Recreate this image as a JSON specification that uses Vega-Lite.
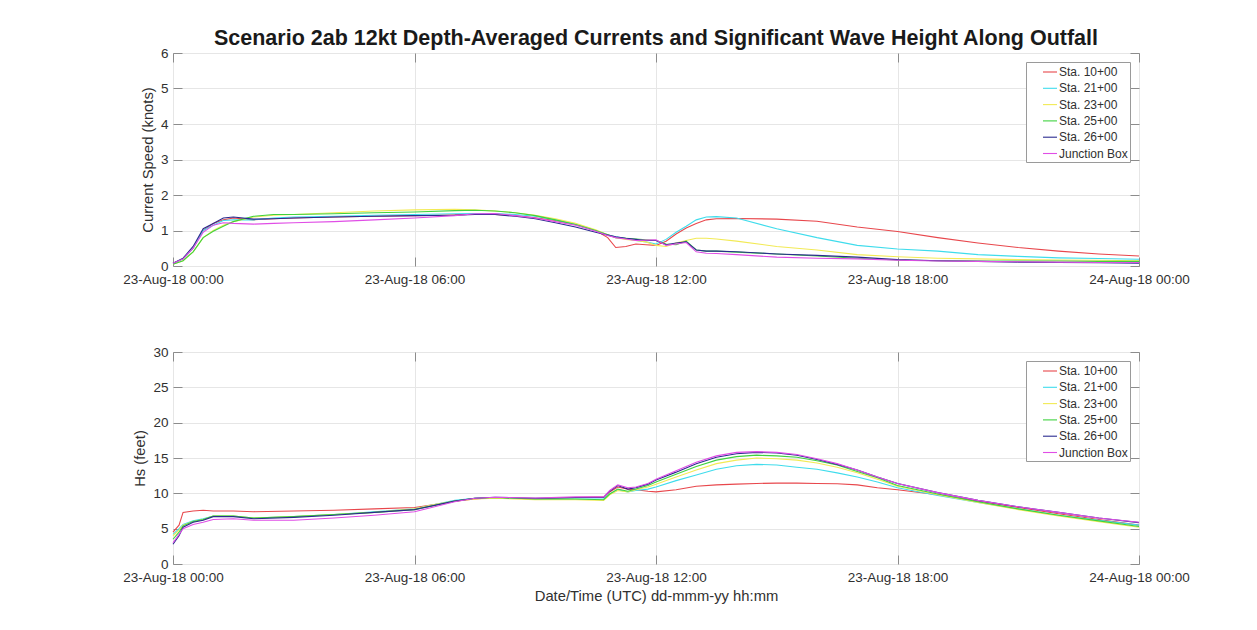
{
  "$schema": "https://vega.github.io/schema/vega-lite/v6.json",
  "background": "white",
  "padding": {"left": 122, "top": 27, "right": 10, "bottom": 5},
  "config": {
    "font": "Liberation Sans",
    "view": {"stroke": "#8c8c8c", "strokeWidth": 1},
    "axis": {
      "labelFont": "Liberation Sans", "labelFontSize": 13.5, "labelColor": "#303030",
      "titleFont": "Liberation Sans", "titleFontSize": 14.8, "titleFontWeight": "normal", "titleColor": "#303030",
      "gridColor": "#e6e6e6", "gridWidth": 1, "domain": false, "labelFlush": false,
      "tickColor": "#8c8c8c", "tickSize": -9
    },
    "legend": {
      "orient": "top-right", "offset": 9, "title": null, "fillColor": "white", "strokeColor": "#9a9a9a",
      "padding": 2, "symbolType": "stroke", "symbolSize": 196, "symbolStrokeWidth": 1.2, "symbolOffset": 14,
      "labelFont": "Liberation Sans", "labelFontSize": 12, "labelColor": "#303030", "labelOffset": 1, "rowPadding": 2.3
    },
    "line": {"strokeWidth": 1.1}
  },
  "datasets": {
    "cur": [
      {"h": 0, "r": 0.08, "c": 0.08, "y": 0.05, "g": 0.05, "b": 0.08, "m": 0.08},
      {"h": 0.25, "r": 0.2, "c": 0.2, "y": 0.15, "g": 0.15, "b": 0.22, "m": 0.2},
      {"h": 0.5, "r": 0.5, "c": 0.5, "y": 0.4, "g": 0.4, "b": 0.55, "m": 0.5},
      {"h": 0.75, "r": 1.0, "c": 1.0, "y": 0.8, "g": 0.8, "b": 1.05, "m": 0.95},
      {"h": 1, "r": 1.2, "c": 1.15, "y": 1.0, "g": 0.98, "b": 1.2, "m": 1.15},
      {"h": 1.25, "r": 1.3, "c": 1.28, "y": 1.15, "g": 1.12, "b": 1.35, "m": 1.22},
      {"h": 1.5, "r": 1.35, "c": 1.3, "y": 1.25, "g": 1.25, "b": 1.38, "m": 1.2},
      {"h": 2, "r": 1.3, "c": 1.3, "y": 1.38, "g": 1.4, "b": 1.32, "m": 1.18},
      {"h": 2.5, "r": 1.33, "c": 1.35, "y": 1.43, "g": 1.45, "b": 1.33, "m": 1.2},
      {"h": 3, "r": 1.35, "c": 1.38, "y": 1.45, "g": 1.45, "b": 1.35, "m": 1.22},
      {"h": 4, "r": 1.38, "c": 1.4, "y": 1.5, "g": 1.47, "b": 1.38, "m": 1.25},
      {"h": 5, "r": 1.4, "c": 1.43, "y": 1.55, "g": 1.5, "b": 1.4, "m": 1.3},
      {"h": 6, "r": 1.42, "c": 1.45, "y": 1.58, "g": 1.52, "b": 1.42, "m": 1.35},
      {"h": 7, "r": 1.44, "c": 1.47, "y": 1.6, "g": 1.56, "b": 1.43, "m": 1.42},
      {"h": 7.5, "r": 1.46, "c": 1.48, "y": 1.58, "g": 1.57, "b": 1.45, "m": 1.47},
      {"h": 8, "r": 1.45, "c": 1.48, "y": 1.55, "g": 1.55, "b": 1.45, "m": 1.48},
      {"h": 8.5, "r": 1.42, "c": 1.45, "y": 1.5, "g": 1.5, "b": 1.4, "m": 1.42},
      {"h": 9, "r": 1.36, "c": 1.4, "y": 1.43, "g": 1.42, "b": 1.33, "m": 1.35},
      {"h": 9.5, "r": 1.28, "c": 1.3, "y": 1.33, "g": 1.3, "b": 1.22, "m": 1.25},
      {"h": 10, "r": 1.17, "c": 1.18, "y": 1.2, "g": 1.17, "b": 1.1, "m": 1.15},
      {"h": 10.5, "r": 1.0, "c": 1.0, "y": 1.02, "g": 1.0, "b": 0.95, "m": 0.98},
      {"h": 10.8, "r": 0.8, "c": 0.88, "y": 0.88, "g": 0.88, "b": 0.87, "m": 0.86},
      {"h": 11, "r": 0.52, "c": 0.82, "y": 0.8, "g": 0.8, "b": 0.82, "m": 0.8},
      {"h": 11.25, "r": 0.55, "c": 0.77, "y": 0.75, "g": 0.78, "b": 0.78, "m": 0.76},
      {"h": 11.5, "r": 0.62, "c": 0.72, "y": 0.72, "g": 0.76, "b": 0.75, "m": 0.72},
      {"h": 11.75, "r": 0.6, "c": 0.68, "y": 0.68, "g": 0.74, "b": 0.72, "m": 0.73},
      {"h": 12, "r": 0.58, "c": 0.62, "y": 0.58, "g": 0.72, "b": 0.72, "m": 0.74},
      {"h": 12.25, "r": 0.7, "c": 0.75, "y": 0.55, "g": 0.62, "b": 0.6, "m": 0.58},
      {"h": 12.5, "r": 0.9, "c": 0.95, "y": 0.65, "g": 0.6, "b": 0.65, "m": 0.62},
      {"h": 12.75, "r": 1.07, "c": 1.12, "y": 0.72, "g": 0.7, "b": 0.68, "m": 0.66},
      {"h": 13, "r": 1.2, "c": 1.3, "y": 0.78, "g": 0.45, "b": 0.45, "m": 0.4},
      {"h": 13.25, "r": 1.3, "c": 1.38, "y": 0.78, "g": 0.42, "b": 0.42, "m": 0.36},
      {"h": 13.5, "r": 1.33, "c": 1.39, "y": 0.76, "g": 0.42, "b": 0.42, "m": 0.35},
      {"h": 14, "r": 1.34, "c": 1.35, "y": 0.7, "g": 0.39, "b": 0.4, "m": 0.32},
      {"h": 15, "r": 1.32, "c": 1.05, "y": 0.55, "g": 0.34, "b": 0.34, "m": 0.25},
      {"h": 16, "r": 1.26, "c": 0.8, "y": 0.45, "g": 0.28, "b": 0.3, "m": 0.22},
      {"h": 17, "r": 1.1, "c": 0.58, "y": 0.32, "g": 0.22, "b": 0.25, "m": 0.2},
      {"h": 18, "r": 0.97, "c": 0.48, "y": 0.26, "g": 0.17, "b": 0.18, "m": 0.16},
      {"h": 19, "r": 0.8, "c": 0.42, "y": 0.22, "g": 0.15, "b": 0.15, "m": 0.14},
      {"h": 20, "r": 0.65, "c": 0.32, "y": 0.2, "g": 0.14, "b": 0.13, "m": 0.13},
      {"h": 21, "r": 0.52, "c": 0.27, "y": 0.18, "g": 0.14, "b": 0.11, "m": 0.12},
      {"h": 22, "r": 0.42, "c": 0.23, "y": 0.17, "g": 0.14, "b": 0.1, "m": 0.11},
      {"h": 23, "r": 0.34, "c": 0.21, "y": 0.16, "g": 0.13, "b": 0.09, "m": 0.1},
      {"h": 24, "r": 0.28, "c": 0.19, "y": 0.15, "g": 0.13, "b": 0.08, "m": 0.1}
    ],
    "hs": [
      {"h": 0, "r": 4.5, "c": 4.2, "y": 4.0, "g": 3.5, "b": 2.8, "m": 3.0},
      {"h": 0.15, "r": 5.5, "c": 5.0, "y": 4.8, "g": 4.5, "b": 4.0, "m": 4.2},
      {"h": 0.25, "r": 7.3, "c": 5.6, "y": 5.5, "g": 5.4, "b": 5.2, "m": 5.0},
      {"h": 0.5, "r": 7.5, "c": 6.1, "y": 6.0, "g": 6.0, "b": 5.9, "m": 5.6},
      {"h": 0.75, "r": 7.6, "c": 6.4, "y": 6.3, "g": 6.3, "b": 6.2, "m": 5.9},
      {"h": 1, "r": 7.5, "c": 6.8, "y": 6.8, "g": 6.8, "b": 6.7, "m": 6.3},
      {"h": 1.5, "r": 7.5, "c": 6.8, "y": 6.8, "g": 6.8, "b": 6.7, "m": 6.4},
      {"h": 2, "r": 7.4, "c": 6.5, "y": 6.5, "g": 6.5, "b": 6.4, "m": 6.2},
      {"h": 3, "r": 7.5, "c": 6.7, "y": 6.7, "g": 6.7, "b": 6.6, "m": 6.2},
      {"h": 4, "r": 7.6, "c": 7.0, "y": 7.0, "g": 7.0, "b": 6.9, "m": 6.5},
      {"h": 5, "r": 7.8, "c": 7.4, "y": 7.3, "g": 7.3, "b": 7.3, "m": 6.9},
      {"h": 6, "r": 8.0, "c": 7.8, "y": 7.8, "g": 7.7, "b": 7.7, "m": 7.4},
      {"h": 6.5, "r": 8.4, "c": 8.4, "y": 8.4, "g": 8.3, "b": 8.3, "m": 8.1},
      {"h": 7, "r": 8.9, "c": 9.0, "y": 8.9, "g": 8.9, "b": 8.9, "m": 8.8},
      {"h": 7.5, "r": 9.2, "c": 9.3, "y": 9.2, "g": 9.3, "b": 9.3, "m": 9.3},
      {"h": 8, "r": 9.4, "c": 9.4, "y": 9.3, "g": 9.4, "b": 9.45, "m": 9.45},
      {"h": 9, "r": 9.2, "c": 9.2, "y": 9.1, "g": 9.2, "b": 9.3, "m": 9.35},
      {"h": 10, "r": 9.4, "c": 9.2, "y": 9.1, "g": 9.2, "b": 9.4, "m": 9.5},
      {"h": 10.7, "r": 9.5, "c": 9.2, "y": 9.0, "g": 9.1, "b": 9.4, "m": 9.5},
      {"h": 10.85, "r": 10.2, "c": 9.9, "y": 9.8, "g": 9.9, "b": 10.3, "m": 10.4},
      {"h": 11.05, "r": 10.9, "c": 10.5, "y": 10.4, "g": 10.6, "b": 11.1, "m": 11.2},
      {"h": 11.3, "r": 10.6, "c": 10.2, "y": 10.2, "g": 10.3, "b": 10.6, "m": 10.8},
      {"h": 11.5, "r": 10.5, "c": 10.4, "y": 10.5, "g": 10.6, "b": 10.8, "m": 10.9},
      {"h": 11.8, "r": 10.3, "c": 10.6, "y": 10.9, "g": 11.1, "b": 11.3, "m": 11.4},
      {"h": 12, "r": 10.2, "c": 10.9, "y": 11.3, "g": 11.6, "b": 11.9, "m": 12.0},
      {"h": 12.5, "r": 10.5, "c": 11.8, "y": 12.3, "g": 12.7, "b": 13.0, "m": 13.2},
      {"h": 13, "r": 11.0, "c": 12.6, "y": 13.3, "g": 13.8, "b": 14.2, "m": 14.4},
      {"h": 13.5, "r": 11.2, "c": 13.4, "y": 14.2, "g": 14.7, "b": 15.1, "m": 15.3},
      {"h": 14, "r": 11.3, "c": 13.9, "y": 14.7, "g": 15.2, "b": 15.6, "m": 15.8},
      {"h": 14.5, "r": 11.4, "c": 14.1, "y": 15.0, "g": 15.4, "b": 15.8, "m": 15.9},
      {"h": 15, "r": 11.45, "c": 14.0, "y": 14.9, "g": 15.3, "b": 15.7, "m": 15.8},
      {"h": 15.5, "r": 11.45, "c": 13.7, "y": 14.7, "g": 15.1, "b": 15.4, "m": 15.5},
      {"h": 16, "r": 11.4, "c": 13.4, "y": 14.3, "g": 14.6, "b": 14.8, "m": 14.9},
      {"h": 16.5, "r": 11.35, "c": 12.9, "y": 13.7, "g": 14.0, "b": 14.1, "m": 14.2},
      {"h": 17, "r": 11.2, "c": 12.3, "y": 12.9, "g": 13.1, "b": 13.3, "m": 13.3},
      {"h": 17.5, "r": 10.8, "c": 11.6, "y": 12.0, "g": 12.2, "b": 12.3, "m": 12.3},
      {"h": 18, "r": 10.5, "c": 10.8, "y": 11.0, "g": 11.1, "b": 11.4, "m": 11.4},
      {"h": 19, "r": 9.8, "c": 9.7, "y": 9.8, "g": 9.9, "b": 10.1, "m": 10.1},
      {"h": 20, "r": 8.9, "c": 8.7, "y": 8.7, "g": 8.8, "b": 9.0, "m": 9.0},
      {"h": 21, "r": 8.0, "c": 7.8, "y": 7.7, "g": 7.8, "b": 8.1, "m": 8.1},
      {"h": 22, "r": 7.1, "c": 6.9, "y": 6.8, "g": 6.9, "b": 7.3, "m": 7.3},
      {"h": 23, "r": 6.3, "c": 6.2, "y": 6.0, "g": 6.1, "b": 6.5, "m": 6.5},
      {"h": 24, "r": 5.5, "c": 5.5, "y": 5.2, "g": 5.3, "b": 5.85, "m": 5.9}
    ]
  },
  "spacing": 58,
  "resolve": {"scale": {"color": "independent"}, "legend": {"color": "independent"}},
  "vconcat": [
    {
      "width": 966, "height": 213,
      "title": {"text": "Scenario 2ab 12kt Depth-Averaged Currents and Significant Wave Height Along Outfall", "font": "Liberation Sans", "fontSize": 21.5, "fontWeight": "bold", "color": "#1a1a1a", "anchor": "middle", "frame": "group", "offset": -3},
      "data": {"name": "cur"},
      "transform": [{"fold": ["r", "c", "y", "g", "b", "m"], "as": ["s", "v"]}],
      "layer": [
        {
          "mark": {"type": "line"},
          "encoding": {
            "x": {"field": "h", "type": "quantitative", "scale": {"domain": [0, 24], "nice": false},
                  "axis": {"values": [0, 6, 12, 18, 24], "grid": true, "title": null, "labelPadding": 15,
                           "labelExpr": "['23-Aug-18 00:00','23-Aug-18 06:00','23-Aug-18 12:00','23-Aug-18 18:00','24-Aug-18 00:00'][round(datum.value/6)]"}},
            "y": {"field": "v", "type": "quantitative", "scale": {"domain": [0, 6], "nice": false},
                  "axis": {"values": [0, 1, 2, 3, 4, 5, 6], "grid": true, "title": "Current Speed (knots)", "labelPadding": 14, "titlePadding": 5}},
            "color": {"field": "s", "type": "nominal",
                      "scale": {"domain": ["r", "c", "y", "g", "b", "m"], "range": ["#e8474c", "#3fdcec", "#f2ea55", "#3fd23f", "#2b2b8f", "#e04ee6"]},
                      "legend": {"labelExpr": "{'r':'Sta. 10+00','c':'Sta. 21+00','y':'Sta. 23+00','g':'Sta. 25+00','b':'Sta. 26+00','m':'Junction Box'}[datum.label]"}}
          }
        },
        {
          "mark": {"type": "line", "opacity": 0},
          "encoding": {
            "x": {"field": "h", "type": "quantitative", "axis": {"orient": "top", "values": [0, 6, 12, 18, 24], "labels": false, "grid": false, "title": null}},
            "y": {"field": "v", "type": "quantitative", "axis": {"orient": "right", "values": [0, 1, 2, 3, 4, 5, 6], "labels": false, "grid": false, "title": null}},
            "detail": {"field": "s"}
          }
        }
      ],
      "resolve": {"axis": {"x": "independent", "y": "independent"}}
    },
    {
      "width": 966, "height": 212,
      "data": {"name": "hs"},
      "transform": [{"fold": ["r", "c", "y", "g", "b", "m"], "as": ["s", "v"]}],
      "layer": [
        {
          "mark": {"type": "line"},
          "encoding": {
            "x": {"field": "h", "type": "quantitative", "scale": {"domain": [0, 24], "nice": false},
                  "axis": {"values": [0, 6, 12, 18, 24], "grid": true, "title": "Date/Time (UTC) dd-mmm-yy hh:mm", "labelPadding": 15, "titlePadding": 5,
                           "labelExpr": "['23-Aug-18 00:00','23-Aug-18 06:00','23-Aug-18 12:00','23-Aug-18 18:00','24-Aug-18 00:00'][round(datum.value/6)]"}},
            "y": {"field": "v", "type": "quantitative", "scale": {"domain": [0, 30], "nice": false},
                  "axis": {"values": [0, 5, 10, 15, 20, 25, 30], "grid": true, "title": "Hs (feet)", "labelPadding": 14, "titlePadding": 5}},
            "color": {"field": "s", "type": "nominal",
                      "scale": {"domain": ["r", "c", "y", "g", "b", "m"], "range": ["#e8474c", "#3fdcec", "#f2ea55", "#3fd23f", "#2b2b8f", "#e04ee6"]},
                      "legend": {"labelExpr": "{'r':'Sta. 10+00','c':'Sta. 21+00','y':'Sta. 23+00','g':'Sta. 25+00','b':'Sta. 26+00','m':'Junction Box'}[datum.label]"}}
          }
        },
        {
          "mark": {"type": "line", "opacity": 0},
          "encoding": {
            "x": {"field": "h", "type": "quantitative", "axis": {"orient": "top", "values": [0, 6, 12, 18, 24], "labels": false, "grid": false, "title": null}},
            "y": {"field": "v", "type": "quantitative", "axis": {"orient": "right", "values": [0, 5, 10, 15, 20, 25, 30], "labels": false, "grid": false, "title": null}},
            "detail": {"field": "s"}
          }
        }
      ],
      "resolve": {"axis": {"x": "independent", "y": "independent"}}
    }
  ]
}
